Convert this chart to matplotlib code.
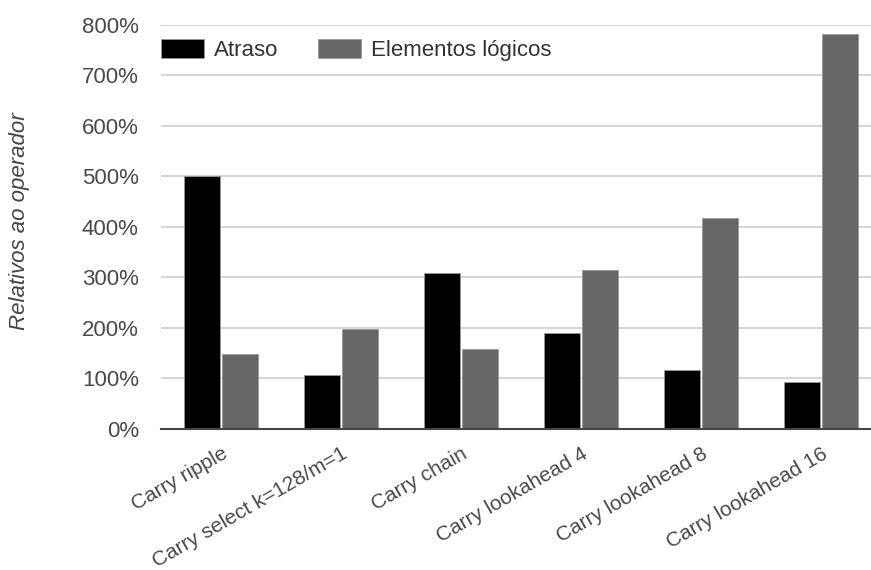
import matplotlib
matplotlib.use("Agg")
import matplotlib.pyplot as plt
import numpy as np
from matplotlib.ticker import FuncFormatter

plt.rcParams['font.family'] = ['Liberation Sans', 'DejaVu Sans']

categories = [
    "Carry ripple",
    "Carry select k=128/m=1",
    "Carry chain",
    "Carry lookahead 4",
    "Carry lookahead 8",
    "Carry lookahead 16",
]
series_names = ["Atraso", "Elementos lógicos"]
atraso = [500, 106, 308, 190, 116, 92]
elementos = [148, 197, 158, 314, 418, 783]
y_ticks = [0, 100, 200, 300, 400, 500, 600, 700, 800]

W, H = 871, 570
fig = plt.figure(figsize=(W / 100, H / 100), dpi=100)
left, right, bottom, top = 161, 871, 570 - 428.7, 570 - 25
ax = fig.add_axes([left / W, bottom / H, (right - left) / W, (top - bottom) / H])

x = np.arange(len(categories))
bw = 0.30
off = 0.157
ax.bar(x - off, atraso, bw, color="#000000", edgecolor="#9a9a9a", linewidth=0.6,
       label=series_names[0], zorder=3)
ax.bar(x + off, elementos, bw, color="#666666", edgecolor="#9a9a9a", linewidth=0.6,
       label=series_names[1], zorder=3)

ax.set_xlim(-0.5, -0.5 + (right - left) / 120.0)
ax.set_ylim(0, 800)
ax.set_yticks(y_ticks)
ax.yaxis.set_major_formatter(FuncFormatter(lambda v, p: f"{int(v)}%"))
ax.grid(axis="y", color="#d6d6d6", linewidth=1.5, zorder=0)
ax.set_axisbelow(True)

for s in ["top", "right", "left"]:
    ax.spines[s].set_visible(False)
ax.spines["bottom"].set_color("#444444")
ax.spines["bottom"].set_linewidth(1.5)
ax.spines["bottom"].set_zorder(4)

ax.tick_params(axis="both", length=0, colors="#4a4a4a")
ax.tick_params(axis="y", pad=16, labelsize=16)
ax.set_xticks(x)
ax.set_xticklabels(categories, rotation=30, ha="right", rotation_mode="anchor",
                   fontsize=15)
ax.tick_params(axis="x", pad=11)

fig.text(20 / W, 1 - 221 / H, "Relativos ao operador", rotation=90, style="italic",
         fontsize=16, color="#444444", ha="center", va="center")

leg = ax.legend(loc="upper left", bbox_to_anchor=(0.0, 1 - 14 / (top - bottom)),
                ncol=2, frameon=False, fontsize=16, handlelength=1.95,
                handleheight=0.95, handletextpad=0.45, columnspacing=1.75,
                borderaxespad=0, borderpad=0)
for t in leg.get_texts():
    t.set_color("#333333")

fig.savefig("out.png", dpi=100, facecolor="white")
